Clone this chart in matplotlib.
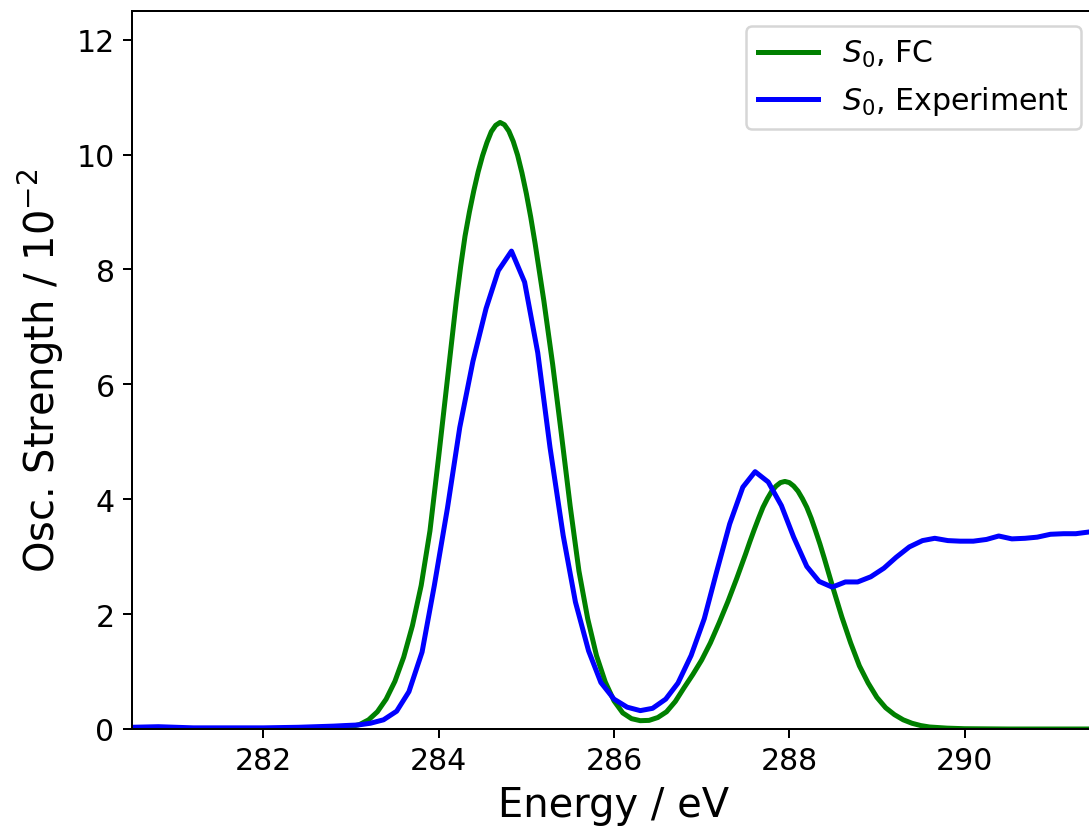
import matplotlib
matplotlib.use("Agg")
import matplotlib.pyplot as plt

# S0, FC (calculated) spectrum
fc_energy = [280.5, 282.0, 282.5, 282.8, 283.0, 283.1, 283.2, 283.3, 283.4, 283.5,
             283.6, 283.7, 283.8, 283.9, 284.0, 284.1, 284.2, 284.25, 284.3, 284.35,
             284.4, 284.45, 284.5, 284.55, 284.6, 284.65, 284.7, 284.75, 284.8, 284.85,
             284.9, 284.95, 285.0, 285.05, 285.1, 285.2, 285.3, 285.4, 285.5, 285.6,
             285.7, 285.8, 285.9, 286.0, 286.1, 286.2, 286.3, 286.4, 286.5, 286.6,
             286.7, 286.8, 286.9, 287.0, 287.1, 287.2, 287.3, 287.4, 287.5, 287.55,
             287.6, 287.65, 287.7, 287.75, 287.8, 287.85, 287.9, 287.95, 288.0, 288.05,
             288.1, 288.15, 288.2, 288.25, 288.3, 288.35, 288.4, 288.5, 288.6, 288.7,
             288.8, 288.9, 289.0, 289.1, 289.2, 289.3, 289.4, 289.5, 289.6, 289.8,
             290.0, 290.5, 291.5]
fc_strength = [0.0, 0.0, 0.0, 0.01, 0.04, 0.08, 0.16, 0.30, 0.52, 0.83,
               1.25, 1.80, 2.50, 3.45, 4.75, 6.10, 7.45, 8.05, 8.58, 9.00,
               9.37, 9.70, 9.98, 10.21, 10.40, 10.51, 10.56, 10.52, 10.41, 10.23,
               9.99, 9.68, 9.32, 8.91, 8.45, 7.45, 6.35, 5.13, 3.88, 2.75,
               1.92, 1.28, 0.82, 0.49, 0.28, 0.18, 0.145, 0.15, 0.20, 0.30,
               0.48, 0.72, 0.95, 1.20, 1.50, 1.85, 2.22, 2.62, 3.04, 3.26,
               3.47, 3.67, 3.86, 4.01, 4.14, 4.23, 4.29, 4.31, 4.29, 4.23,
               4.14, 4.01, 3.86, 3.67, 3.45, 3.22, 2.97, 2.45, 1.95, 1.50,
               1.10, 0.80, 0.55, 0.37, 0.25, 0.16, 0.10, 0.06, 0.035, 0.015,
               0.005, 0.0, 0.0]

# S0, experiment
exp_energy = [280.5, 280.8, 281.2, 281.6, 282.0, 282.4, 282.8, 282.93, 283.08, 283.22,
              283.37, 283.52, 283.66, 283.81, 283.95, 284.10, 284.24, 284.39, 284.54, 284.68,
              284.83, 284.98, 285.13, 285.27, 285.42, 285.56, 285.71, 285.85, 286.00, 286.15,
              286.30, 286.44, 286.59, 286.73, 286.88, 287.03, 287.17, 287.32, 287.47, 287.61,
              287.76, 287.91, 288.05, 288.20, 288.34, 288.49, 288.64, 288.78, 288.93, 289.08,
              289.22, 289.37, 289.52, 289.66, 289.81, 289.95, 290.10, 290.25, 290.39, 290.54,
              290.69, 290.83, 290.98, 291.13, 291.27, 291.42, 291.56]
exp_strength = [0.03, 0.04, 0.02, 0.02, 0.02, 0.03, 0.05, 0.06, 0.07, 0.10,
                0.16, 0.31, 0.65, 1.34, 2.50, 3.85, 5.25, 6.40, 7.32, 7.98,
                8.32, 7.78, 6.55, 4.90, 3.37, 2.21, 1.36, 0.81, 0.52, 0.38,
                0.32, 0.36, 0.52, 0.80, 1.28, 1.92, 2.73, 3.57, 4.21, 4.48,
                4.30, 3.89, 3.34, 2.83, 2.57, 2.47, 2.56, 2.56, 2.65, 2.80,
                2.99, 3.17, 3.28, 3.32, 3.28, 3.27, 3.27, 3.30, 3.36, 3.31,
                3.32, 3.34, 3.39, 3.40, 3.40, 3.43, 3.44]

fig = plt.figure(figsize=(1089 / 180, 831 / 180), dpi=180)
ax = fig.add_axes([132 / 1089, 101 / 831, 964 / 1089, 718 / 831])

ax.plot(fc_energy, fc_strength, color="green", lw=2, label=r"$S_0$, FC")
ax.plot(exp_energy, exp_strength, color="blue", lw=2, label=r"$S_0$, Experiment")

ax.set_xlim(280.5, 291.5)
ax.set_ylim(0, 12.5)
ax.set_xticks([282, 284, 286, 288, 290])
ax.set_yticks([0, 2, 4, 6, 8, 10, 12])
ax.tick_params(labelsize=12)
ax.set_xlabel("Energy / eV", fontsize=16)
ax.set_ylabel(r"Osc. Strength / $10^{-2}$", fontsize=16)
ax.legend(loc="upper right", fontsize=12)

fig.savefig("out.png", dpi=180)
